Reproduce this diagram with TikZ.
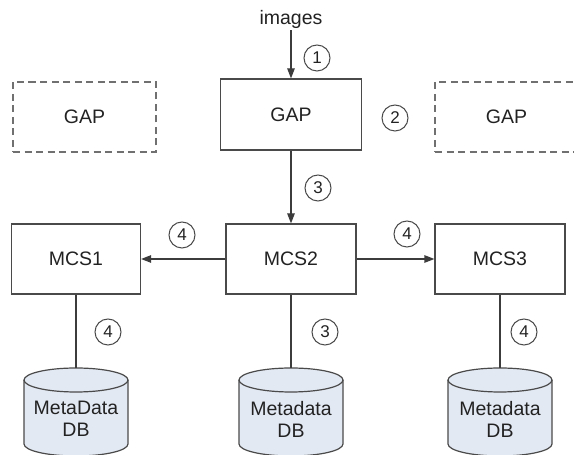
\documentclass[tikz,border=0pt]{standalone}
\usepackage{fontspec}
\setmainfont{Liberation Sans}
\usetikzlibrary{arrows.meta}
\definecolor{edge}{HTML}{4A4A4A}
\definecolor{lineC}{HTML}{3C3C3C}
\definecolor{dashgrey}{HTML}{707070}
\definecolor{dbblue}{HTML}{E3E9F3}
\definecolor{txt}{HTML}{222222}
\newcommand\mydb[3]{%
  \filldraw[dbfill] (#1-52,75) -- (#1-52,11)
    arc[start angle=180,end angle=360,x radius=52,y radius=12]
    -- (#1+52,75)
    arc[start angle=0,end angle=180,x radius=52,y radius=12] -- cycle;
  \draw[dbline] (#1-52,75) arc[start angle=180,end angle=360,x radius=52,y radius=12];
  \node[dbtext] (#2) at (#1,36) {#3};
  \coordinate (#2t) at (#1,87);
}
\begin{document}
\begin{tikzpicture}[x=1pt,y=1pt,
  box/.style={draw=edge, line width=1.2pt, minimum width=130pt, minimum height=70pt,
    inner sep=0pt, font=\fontsize{19.5}{22}\selectfont, text=txt},
  ghost/.style={box, draw=dashgrey, line width=1.8pt, dash pattern=on 7pt off 4.5pt},
  num/.style={circle, draw=edge, line width=1pt, minimum size=26pt, inner sep=0pt,
    font=\fontsize{17}{20}\selectfont, text=txt},
  conn/.style={draw=lineC, line width=1.2pt},
  arr/.style={conn, -{Triangle[length=10pt,width=7.5pt]}},
  dbfill/.style={fill=dbblue, draw=edge, line width=1.2pt},
  dbline/.style={draw=edge, line width=1.2pt},
  dbtext/.style={align=center, inner sep=0pt, font=\fontsize{19.5}{22}\selectfont, text=txt}
]
\useasboundingbox (0,0) rectangle (574,455);
\clip (0,0) rectangle (574,455);

% top row
\node[font=\fontsize{19.5}{22}\selectfont, text=txt, inner sep=2pt] (img) at (291,436) {images};
\node[box, minimum width=141pt, minimum height=71pt] (gap) at (291,340.5) {GAP};
\node[ghost, minimum width=143pt] (gapL) at (84.5,338) {GAP};
\node[ghost, minimum width=143pt] (gapR) at (506.5,338) {GAP};

% middle row
\node[box, minimum width=129pt] (mcs1) at (76,196) {MCS1};
\node[box] (mcs2) at (291,196) {MCS2};
\node[box] (mcs3) at (500,196) {MCS3};

% databases
\mydb{76}{db1}{MetaData\\DB}
\mydb{291}{db2}{Metadata\\DB}
\mydb{500}{db3}{Metadata\\DB}

% connectors
\draw[arr] (img) -- (gap);
\draw[arr] (gap) -- (mcs2);
\draw[arr] (mcs2) -- (mcs1);
\draw[arr] (mcs2) -- (mcs3);
\draw[conn] (mcs1) -- (db1t);
\draw[conn] (mcs2) -- (db2t);
\draw[conn] (mcs3) -- (db3t);

% step numbers
\node[num] (n1) at (317,397) {1};
\node[num] (n2) at (395,337) {2};
\node[num] (n3a) at (318,267) {3};
\node[num] (n4a) at (182,220) {4};
\node[num] (n4b) at (407,221) {4};
\node[num] (n4c) at (108,123) {4};
\node[num] (n3b) at (325,123) {3};
\node[num] (n4d) at (524,123) {4};
\end{tikzpicture}
\end{document}
